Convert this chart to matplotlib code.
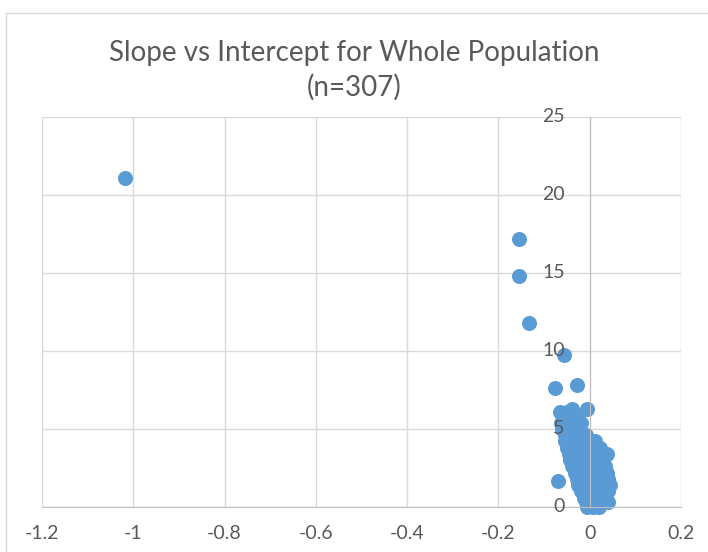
import matplotlib.pyplot as plt
from matplotlib.patches import Rectangle

# ---------------------------------- data ----------------------------------
# outliers
outlier_slope = [-1.018, -0.154, -0.154, -0.134, -0.056, -0.075, -0.028, -0.070, -0.005, -0.039]
outlier_intercept = [21.1, 17.2, 14.8, 11.8, 9.75, 7.6, 7.8, 1.65, 6.3, 6.3]

# dense cluster near zero, read row by row (intercept -> slopes)
cluster_rows = {
    6.1: [-0.065, -0.050],
    5.8: [-0.058, -0.040, -0.025],
    5.4: [-0.062, -0.045, -0.030, -0.020],
    5.0: [-0.060, -0.042, -0.025],
    4.6: [-0.055, -0.040, -0.022, -0.008],
    4.2: [-0.054, -0.036, -0.018, 0.000, 0.012],
    3.8: [-0.050, -0.032, -0.015, 0.005, 0.022],
    3.4: [-0.046, -0.030, -0.012, 0.008, 0.025, 0.038],
    3.0: [-0.043, -0.025, -0.008, 0.010, 0.030],
    2.6: [-0.038, -0.020, -0.004, 0.014, 0.034],
    2.2: [-0.032, -0.016, 0.000, 0.018, 0.037],
    1.8: [-0.028, -0.012, 0.004, 0.020, 0.040],
    1.4: [-0.025, -0.008, 0.008, 0.026, 0.044],
    1.0: [-0.018, -0.002, 0.014, 0.030, 0.040],
    0.6: [-0.012, 0.003, 0.018, 0.032],
    0.3: [-0.008, 0.006, 0.022, 0.040],
    0.0: [-0.005, 0.008, 0.020],
}

x_ticks = [-1.2, -1.0, -0.8, -0.6, -0.4, -0.2, 0.0, 0.2]
x_tick_labels = ['-1.2', '-1', '-0.8', '-0.6', '-0.4', '-0.2', '0', '0.2']
y_ticks = [0, 5, 10, 15, 20, 25]
y_tick_labels = ['0', '5', '10', '15', '20', '25']

TITLE = 'Slope vs Intercept for Whole Population\n(n=307)'

# ---------------------------------- plot ----------------------------------
slopes = list(outlier_slope)
intercepts = list(outlier_intercept)
for intercept, row in cluster_rows.items():
    for s in row:
        slopes.append(s)
        intercepts.append(intercept)

plt.rcParams['font.family'] = ['Lato', 'DejaVu Sans']

fig = plt.figure(figsize=(7.08, 5.52), dpi=100)
fig.patches.append(Rectangle((6 / 708, -0.1), 1.2, 1 - 13 / 552 + 0.1, transform=fig.transFigure,
                             fill=False, edgecolor='#D9D9D9', linewidth=1))

ax = fig.add_axes([42 / 708, 1 - 507 / 552, 639 / 708, 390 / 552])
ax.set_xlim(-1.2, 0.2)
ax.set_ylim(0, 25)

ax.scatter(slopes, intercepts, s=117, color='#5B9BD5', linewidths=0, zorder=2, clip_on=False)

ax.set_xticks(x_ticks)
ax.set_xticklabels(x_tick_labels)
ax.set_yticks(y_ticks)
ax.set_yticklabels([])
ax.grid(True, color='#D9D9D9', linewidth=1)
ax.set_axisbelow(True)

# y labels drawn by hand so they sit on top of the points, like Excel does
for value, label in zip(y_ticks, y_tick_labels):
    ax.annotate(label, xy=(0, value), xytext=(-18, 0), textcoords='offset points',
                ha='right', va='center', fontsize=14, color='#595959', zorder=4,
                annotation_clip=False)

for side in ['top', 'right']:
    ax.spines[side].set_visible(False)
ax.spines['left'].set_position(('data', 0))
ax.spines['left'].set_color('#BFBFBF')
ax.spines['bottom'].set_color('#BFBFBF')
ax.tick_params(axis='both', length=0, labelsize=14, labelcolor='#595959')
ax.tick_params(axis='x', pad=13)

fig.text(0.5, 1 - 70 / 552, TITLE, ha='center', va='center', fontsize=20,
         color='#595959', linespacing=1.35)

fig.savefig('out.png', dpi=100)
